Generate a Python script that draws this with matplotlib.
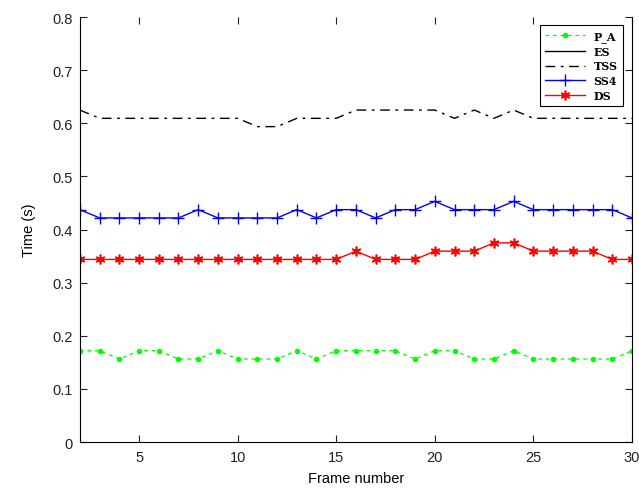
import matplotlib.pyplot as plt
import numpy as np

frames = np.arange(2, 31)

# times in seconds, quantized at 1/64 s
pa = [0.1719, 0.1719, 0.1563, 0.1719, 0.1719, 0.1563, 0.1563, 0.1719, 0.1563, 0.1563,
      0.1563, 0.1719, 0.1563, 0.1719, 0.1719, 0.1719, 0.1719, 0.1563, 0.1719, 0.1719,
      0.1563, 0.1563, 0.1719, 0.1563, 0.1563, 0.1563, 0.1563, 0.1563, 0.1719]
es = []  # not visible inside the plotted range
tss = [0.625, 0.6094, 0.6094, 0.6094, 0.6094, 0.6094, 0.6094, 0.6094, 0.6094, 0.5938,
       0.5938, 0.6094, 0.6094, 0.6094, 0.625, 0.625, 0.625, 0.625, 0.625, 0.6094,
       0.625, 0.6094, 0.625, 0.6094, 0.6094, 0.6094, 0.6094, 0.6094, 0.6094]
ss4 = [0.4375, 0.4219, 0.4219, 0.4219, 0.4219, 0.4219, 0.4375, 0.4219, 0.4219, 0.4219,
       0.4219, 0.4375, 0.4219, 0.4375, 0.4375, 0.4219, 0.4375, 0.4375, 0.4531, 0.4375,
       0.4375, 0.4375, 0.4531, 0.4375, 0.4375, 0.4375, 0.4375, 0.4375, 0.4219]
ds = [0.3438, 0.3438, 0.3438, 0.3438, 0.3438, 0.3438, 0.3438, 0.3438, 0.3438, 0.3438,
      0.3438, 0.3438, 0.3438, 0.3438, 0.3594, 0.3438, 0.3438, 0.3438, 0.3594, 0.3594,
      0.3594, 0.375, 0.375, 0.3594, 0.3594, 0.3594, 0.3594, 0.3438, 0.3438]

plt.rcParams['font.family'] = ['Liberation Sans', 'DejaVu Sans']
plt.rcParams['font.size'] = 10.5

fig = plt.figure(figsize=(6.39, 4.89), dpi=100)
ax = fig.add_axes([0.125, 0.094, 0.864, 0.869])

ax.plot(frames, pa, color='#00ff00', linestyle=(0, (3, 3)), linewidth=0.9,
        marker='.', markersize=6, label='P_A')
ax.plot(frames[:len(es)], es, color='black', linestyle='-', linewidth=1, label='ES')
ax.plot(frames, tss, color='black', linestyle=(0, (7, 4, 2, 4)), linewidth=1, label='TSS')
ax.plot(frames, ss4, color='blue', linestyle='-', linewidth=1,
        marker='+', markersize=9, label='SS4')
ax.plot(frames, ds, color='red', linestyle='-', linewidth=1,
        marker=(6, 2, 0), markersize=7, markeredgewidth=1.2, label='DS')

ax.set_xlim(2, 30)
ax.set_ylim(0, 0.8)
ax.set_xticks([5, 10, 15, 20, 25, 30])
ax.set_yticks(np.arange(0, 0.81, 0.1))
ax.set_yticklabels(['0', '0.1', '0.2', '0.3', '0.4', '0.5', '0.6', '0.7', '0.8'])
ax.tick_params(direction='in', top=True, right=True, length=5, pad=6, colors='#222222')
ax.tick_params(axis='y', pad=5)
ax.spines['top'].set_visible(False)
ax.set_xlabel('Frame number', labelpad=5)
ax.set_ylabel('Time (s)', labelpad=12)

leg = ax.legend(loc='upper right', bbox_to_anchor=(0.993, 0.995), fancybox=False,
                edgecolor='black', framealpha=1, handlelength=3.6,
                prop={'family': 'DejaVu Serif', 'weight': 'bold', 'size': 8},
                borderpad=0.45, labelspacing=0.35)
leg.get_frame().set_linewidth(0.8)

fig.savefig('out.png', dpi=100)
